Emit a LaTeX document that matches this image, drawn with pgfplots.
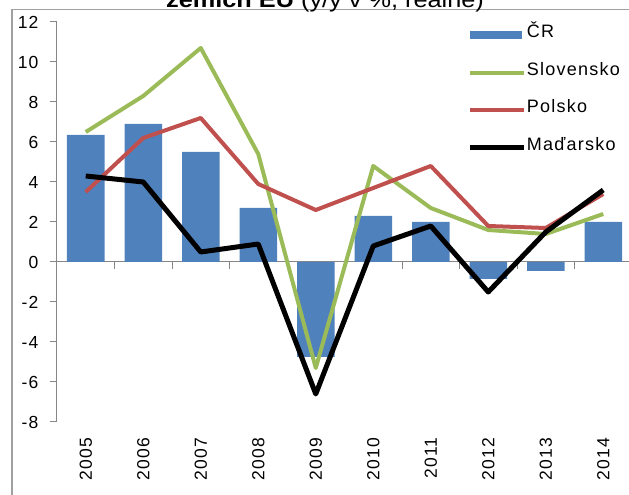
\documentclass[border=0pt]{standalone}
\usepackage{pgfplots}
\pgfplotsset{compat=1.18}
\usepackage{fontspec}
\setmainfont{Liberation Sans}
\newfontfamily\chartfont{Liberation Sans}[LetterSpace=7]
\newfontfamily\titlefont{Liberation Sans}[FakeStretch=1.15]
\definecolor{cr}{HTML}{4F81BD}
\definecolor{sk}{HTML}{9BBB59}
\definecolor{pl}{HTML}{C0504D}
\definecolor{axgray}{HTML}{868686}
\definecolor{framegray}{HTML}{A0A0A0}
\begin{document}
\begin{tikzpicture}[x=1pt,y=1pt]
\draw[framegray, line width=1.5pt] (12,-20) -- (12,485.5) -- (650,485.5);
\node[anchor=base, inner sep=0pt, font=\titlefont\fontsize{22}{24}\selectfont] at (325,487) {\textbf{zemích EU} (y/y v \%, reálně)};
\begin{axis}[
  at={(57pt,73pt)}, anchor=south west, scale only axis,
  width=575pt, height=400pt,
  xmin=-0.5, xmax=9.5, ymin=-8, ymax=12,
  axis lines=left,
  axis line style={-, axgray, line width=1pt},
  x axis line style={draw=none},
  xtick={0,1,2,3,4,5,6,7,8,9},
  xticklabels={2005,2006,2007,2008,2009,2010,2011,2012,2013,2014},
  x tick style={draw=none},
  ytick={-8,-6,-4,-2,0,2,4,6,8,10,12},
  y tick style={axgray, line width=1pt},
  tick align=outside, major tick length=7pt,
  ticklabel style={font=\chartfont\fontsize{17.5}{19}\selectfont},
  /pgf/number format/assume math mode=true,
  xticklabel style={rotate=90, anchor=east, xshift=-5pt},
  yticklabel style={xshift=-8pt},
  clip=false,
  unbounded coords=jump,
  legend cell align=left,
  legend style={at={(0.714,0.992)}, anchor=north west, draw=none, fill=none,
    font=\chartfont\fontsize{18}{19}\selectfont, row sep=21.7pt, inner sep=0pt,
    nodes={inner sep=0pt, text height=12pt, text depth=4pt}},
]
\addplot[axgray, line width=1pt, forget plot] coordinates {(-0.5,0) (9.5,0)};
\addplot[axgray, line width=1pt, forget plot] coordinates {
  (0.5,0) (0.5,-0.33) (1,nan)
  (1.5,0) (1.5,-0.33) (2,nan)
  (2.5,0) (2.5,-0.33) (3,nan)
  (3.5,0) (3.5,-0.33) (4,nan)
  (4.5,0) (4.5,-0.33) (5,nan)
  (5.5,0) (5.5,-0.33) (6,nan)
  (6.5,0) (6.5,-0.33) (7,nan)
  (7.5,0) (7.5,-0.33) (8,nan)
  (8.5,0) (8.5,-0.33)};
\addplot[ybar, bar width=37.5pt, fill=cr, draw=none,
  legend image code/.code={\fill[cr] (1pt,-5.5pt) rectangle (53pt,2.5pt);}]
  coordinates {(0,6.35) (1,6.9) (2,5.5) (3,2.7) (4,-4.75) (5,2.3) (6,2.0) (7,-0.85) (8,-0.45) (9,2.0)};
\addlegendentry{ČR}
\addplot[sk, line width=4pt, line join=round, no marks,
  legend image code/.code={\draw[sk, line width=4pt] (1pt,-1.5pt) -- (55pt,-1.5pt);}]
  coordinates {(0,6.5) (1,8.3) (2,10.7) (3,5.4) (4,-5.3) (5,4.8) (6,2.7) (7,1.6) (8,1.4) (9,2.4)};
\addlegendentry{Slovensko}
\addplot[pl, line width=4pt, line join=round, no marks,
  legend image code/.code={\draw[pl, line width=4pt] (1pt,-1.5pt) -- (55pt,-1.5pt);}]
  coordinates {(0,3.5) (1,6.2) (2,7.2) (3,3.9) (4,2.6) (5,3.7) (6,4.8) (7,1.8) (8,1.7) (9,3.4)};
\addlegendentry{Polsko}
\addplot[black, line width=5pt, line join=round, no marks,
  legend image code/.code={\draw[black, line width=5pt] (1pt,-1.5pt) -- (55pt,-1.5pt);}]
  coordinates {(0,4.3) (1,4.0) (2,0.5) (3,0.9) (4,-6.6) (5,0.8) (6,1.8) (7,-1.5) (8,1.5) (9,3.6)};
\addlegendentry{Maďarsko}
\end{axis}
\pgfresetboundingbox
\useasboundingbox (0,0) rectangle (629,495);
\end{tikzpicture}
\end{document}
